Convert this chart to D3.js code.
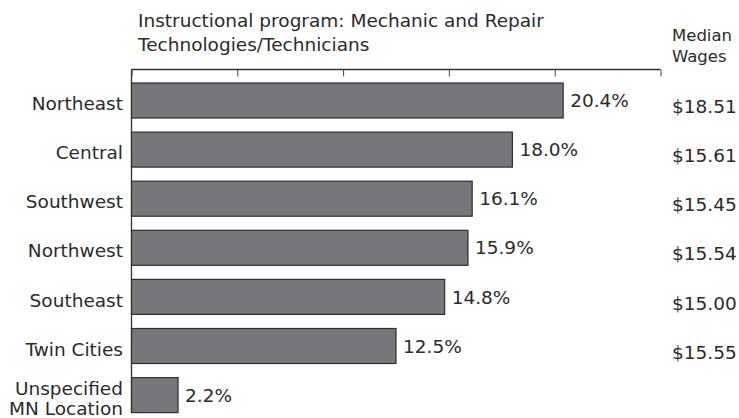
<!DOCTYPE html>
<html>
<head>
<meta charset="utf-8">
<script src="https://cdn.jsdelivr.net/npm/d3@7"></script>
<style>
  html, body { margin: 0; padding: 0; background: #fff; }
  text { font-family: "DejaVu Sans", Verdana, sans-serif; fill: #2a2a2a; }
</style>
</head>
<body>
<svg id="chart" width="739" height="418"></svg>
<script>
const categories = ["Northeast", "Central", "Southwest", "Northwest", "Southeast", "Twin Cities", "Unspecified MN Location"];
const categoryLines = [["Northeast"], ["Central"], ["Southwest"], ["Northwest"], ["Southeast"], ["Twin Cities"], ["Unspecified", "MN Location"]];
const shares = [20.4, 18.0, 16.1, 15.9, 14.8, 12.5, 2.2];
const wages = ["$18.51", "$15.61", "$15.45", "$15.54", "$15.00", "$15.55", null];
const xTicks = [0, 5, 10, 15, 20, 25];
const titleLines = ["Instructional program: Mechanic and Repair", "Technologies/Technicians"];
const wageHeader = ["Median", "Wages"];

const svg = d3.select("#chart");
const fs = 18.5;

const x = d3.scaleLinear().domain([0, 25]).range([131.5, 660.5]);
const y = d3.scaleBand().domain(categories).range([83, 412.6]).paddingInner(0.287).paddingOuter(0);

// top axis
const axisY = 69.5;
const xAxis = d3.axisBottom(x).tickValues(xTicks).tickSize(7).tickFormat("");
const gx = svg.append("g").attr("transform", `translate(0,${axisY})`).call(xAxis);
gx.select(".domain").attr("stroke", "#333").attr("stroke-width", 1.3).attr("d", `M${x(0)},0H${x(25)}`);
gx.selectAll(".tick line").attr("stroke", "#444").attr("stroke-width", 1);

// left vertical axis
svg.append("line")
  .attr("x1", x(0)).attr("x2", x(0))
  .attr("y1", axisY).attr("y2", y.range()[1])
  .attr("stroke", "#333").attr("stroke-width", 1.3);

// bars
svg.append("g").selectAll("rect").data(categories).join("rect")
  .attr("x", x(0))
  .attr("y", d => y(d))
  .attr("width", (d, i) => x(shares[i]) - x(0))
  .attr("height", y.bandwidth())
  .attr("fill", "#77777b")
  .attr("stroke", "#2e2e2e")
  .attr("stroke-width", 1.2);

// value labels
svg.append("g").selectAll("text").data(categories).join("text")
  .attr("x", (d, i) => x(shares[i]) + 7)
  .attr("y", d => y(d) + y.bandwidth() / 2)
  .attr("dy", "0.36em")
  .attr("font-size", fs)
  .text((d, i) => shares[i].toFixed(1) + "%");

// category labels
const cl = svg.append("g").selectAll("text").data(categories).join("text")
  .attr("text-anchor", "end")
  .attr("font-size", fs)
  .attr("x", 123)
  .attr("y", d => y(d) + y.bandwidth() / 2 + 3);
cl.each(function(d, i) {
  const lines = categoryLines[i];
  const t = d3.select(this);
  const lh = 19.5;
  lines.forEach((ln, j) => {
    t.append("tspan").attr("x", 123)
      .attr("dy", j === 0 ? (0.36 - (lines.length - 1) * lh / 2 / fs) + "em" : lh + "px")
      .text(ln);
  });
});

// wages
svg.append("g").selectAll("text").data(categories.filter((d, i) => wages[i])).join("text")
  .attr("x", 672)
  .attr("y", d => y(d) + y.bandwidth() / 2 + 6)
  .attr("dy", "0.36em")
  .attr("font-size", fs)
  .text(d => wages[categories.indexOf(d)]);

// wage header
svg.append("text").attr("font-size", 16.5)
  .selectAll("tspan").data(wageHeader).join("tspan")
  .attr("x", 672).attr("y", (d, i) => 41 + i * 21).text(d => d);

// title
svg.append("text").attr("font-size", 18.5)
  .selectAll("tspan").data(titleLines).join("tspan")
  .attr("x", 138).attr("y", (d, i) => 27 + i * 23.5).text(d => d);
</script>
</body>
</html>
